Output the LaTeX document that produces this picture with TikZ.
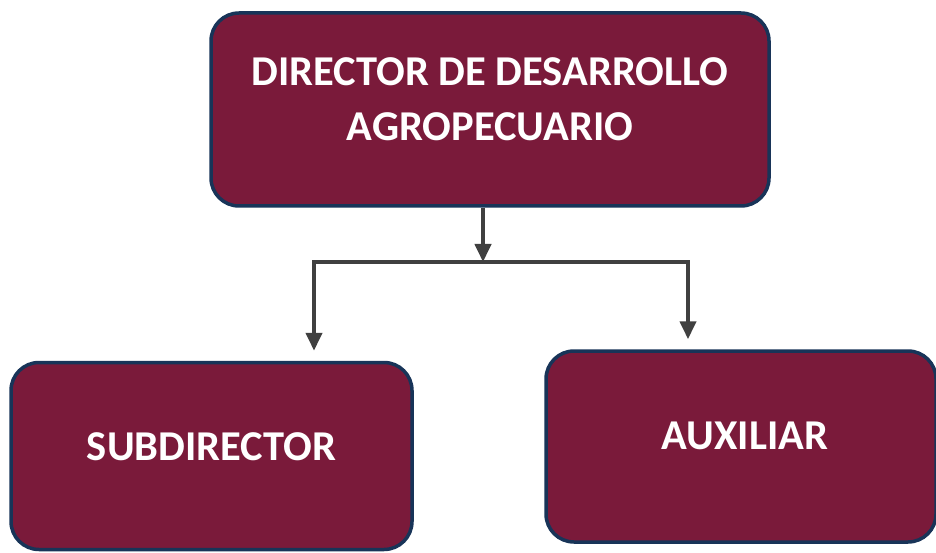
\documentclass[tikz,border=0pt]{standalone}
\usepackage{fontspec}
\setmainfont{Carlito}
\usetikzlibrary{arrows.meta}
\definecolor{boxfill}{RGB}{122,26,58}
\definecolor{boxedge}{RGB}{24,52,88}
\definecolor{arrowgray}{RGB}{64,64,64}
\tikzset{
  orgbox/.style={draw=boxedge, line width=3.5pt, fill=boxfill, rounded corners=28pt, inner sep=0pt},
  orgtxt/.style={text=white, font=\fontsize{42.5}{55}\selectfont\bfseries, align=center, inner sep=0pt},
  conn/.style={draw=arrowgray, line width=4pt},
  arr/.style={conn, -{Triangle[width=16pt,length=18pt]}}
}
\begin{document}
\begin{tikzpicture}[x=1pt,y=-1pt]
\fill[white] (0,0) rectangle (936,553);
\useasboundingbox (0,0) rectangle (936,553);
\node[orgbox, minimum width=558pt, minimum height=193pt] (top) at (490,109.5) {};
\node[orgtxt] (toptxt) at (490,99) {DIRECTOR DE DESARROLLO\\AGROPECUARIO};
\node[orgbox, minimum width=401pt, minimum height=187pt] (sub) at (211.5,456) {};
\node[orgtxt] (subtxt) at (211.5,447) {SUBDIRECTOR};
\node[orgbox, minimum width=390pt, minimum height=191pt] (aux) at (741,446.5) {};
\node[orgtxt] (auxtxt) at (745,436) {AUXILIAR};
\coordinate (jc) at (483,262);
\coordinate (jl) at (314,262);
\coordinate (jr) at (688,262);
\draw[arr] (top.south -| jc) -- (jc);
\draw[conn, line cap=rect] (jl) -- (jr);
\draw[arr, shorten >=10pt] (jl) -- (jl |- sub.north);
\draw[arr, shorten >=10pt] (jr) -- (jr |- aux.north);
\end{tikzpicture}
\end{document}
